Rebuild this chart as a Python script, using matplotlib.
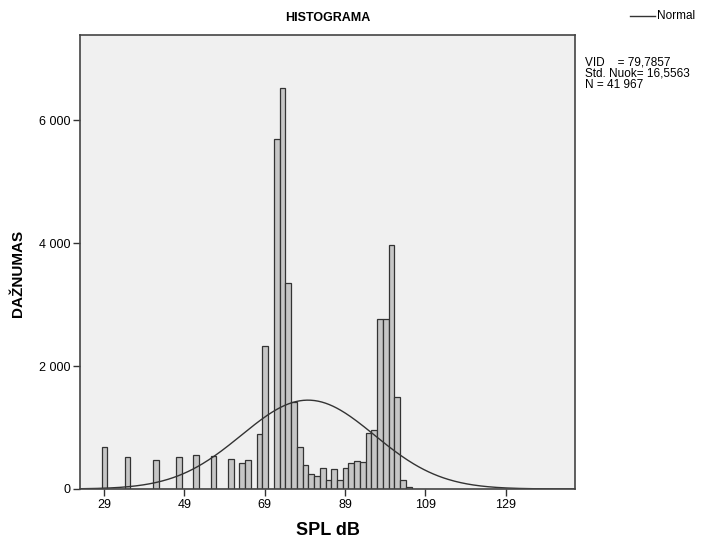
import numpy as np
import matplotlib
matplotlib.use("Agg")
import matplotlib.pyplot as plt

plt.rcParams["font.family"] = ["Liberation Sans", "DejaVu Sans"]

# histogram bins (SPL dB), first bin left edge and width
bin_start = 67.0
bin_width = 1.43
bin_index = np.arange(-27, 27)
counts = [
    685, 0, 0, 0, 522, 0, 0, 0, 0, 473, 0, 0, 0, 515, 0, 0, 554, 0, 0,
    543, 0, 0, 494, 0, 425, 478, 0,
    890, 2320, 0, 5700, 6520, 3360, 1420, 680, 390, 240, 215, 335, 150,
    320, 150, 340, 424, 456, 445, 905, 962, 2760, 2760, 3966, 1505, 150, 40,
]

mean_val = 79.7857
std_val = 16.5563
n_val = 41967

x_ticks = [29, 49, 69, 89, 109, 129]
y_ticks = [0, 2000, 4000, 6000]
y_tick_labels = ["0", "2 000", "4 000", "6 000"]

fig = plt.figure(figsize=(7.03, 5.38), dpi=100)
ax = fig.add_axes([0.1138, 0.0911, 0.7041, 0.8440])
ax.set_facecolor("#f0f0f0")

left_edges = bin_start + bin_index * bin_width
ax.bar(left_edges, counts, width=bin_width, align="edge",
       color="#c6c6c6", edgecolor="#333333", linewidth=0.9)

xs = np.linspace(23, 146.3, 400)
pdf = n_val * bin_width / (std_val * np.sqrt(2 * np.pi)) * np.exp(-0.5 * ((xs - mean_val) / std_val) ** 2)
ax.plot(xs, pdf, color="#333333", linewidth=1.0)

ax.set_xlim(23, 146.3)
ax.set_ylim(0, 7390)
ax.set_xticks(x_ticks)
ax.set_yticks(y_ticks)
ax.set_yticklabels(y_tick_labels)
ax.tick_params(direction="out", length=5, width=1.0, labelsize=9, pad=2, color="#333333")
for s in ax.spines.values():
    s.set_color("#444444")
    s.set_linewidth(1.2)

ax.set_title("HISTOGRAMA", fontsize=9, fontweight="bold", pad=10)
ax.set_xlabel("SPL dB", fontsize=13, fontweight="bold", labelpad=8)
ax.set_ylabel("DAŽNUMAS", fontsize=11, fontweight="bold")
ax.yaxis.set_label_coords(-0.111, 0.475)

# legend and statistics at the top right
fig.add_artist(plt.Line2D([0.896, 0.932], [0.970, 0.970], color="#333333", linewidth=1.0))
fig.text(0.935, 0.970, "Normal", fontsize=8.5, va="center", ha="left")
fig.text(0.832, 0.830,
         "VID    = 79,7857\nStd. Nuok= 16,5563\nN = 41 967",
         fontsize=8.5, va="bottom", ha="left", linespacing=0.95)

fig.savefig("out.png", dpi=100)
